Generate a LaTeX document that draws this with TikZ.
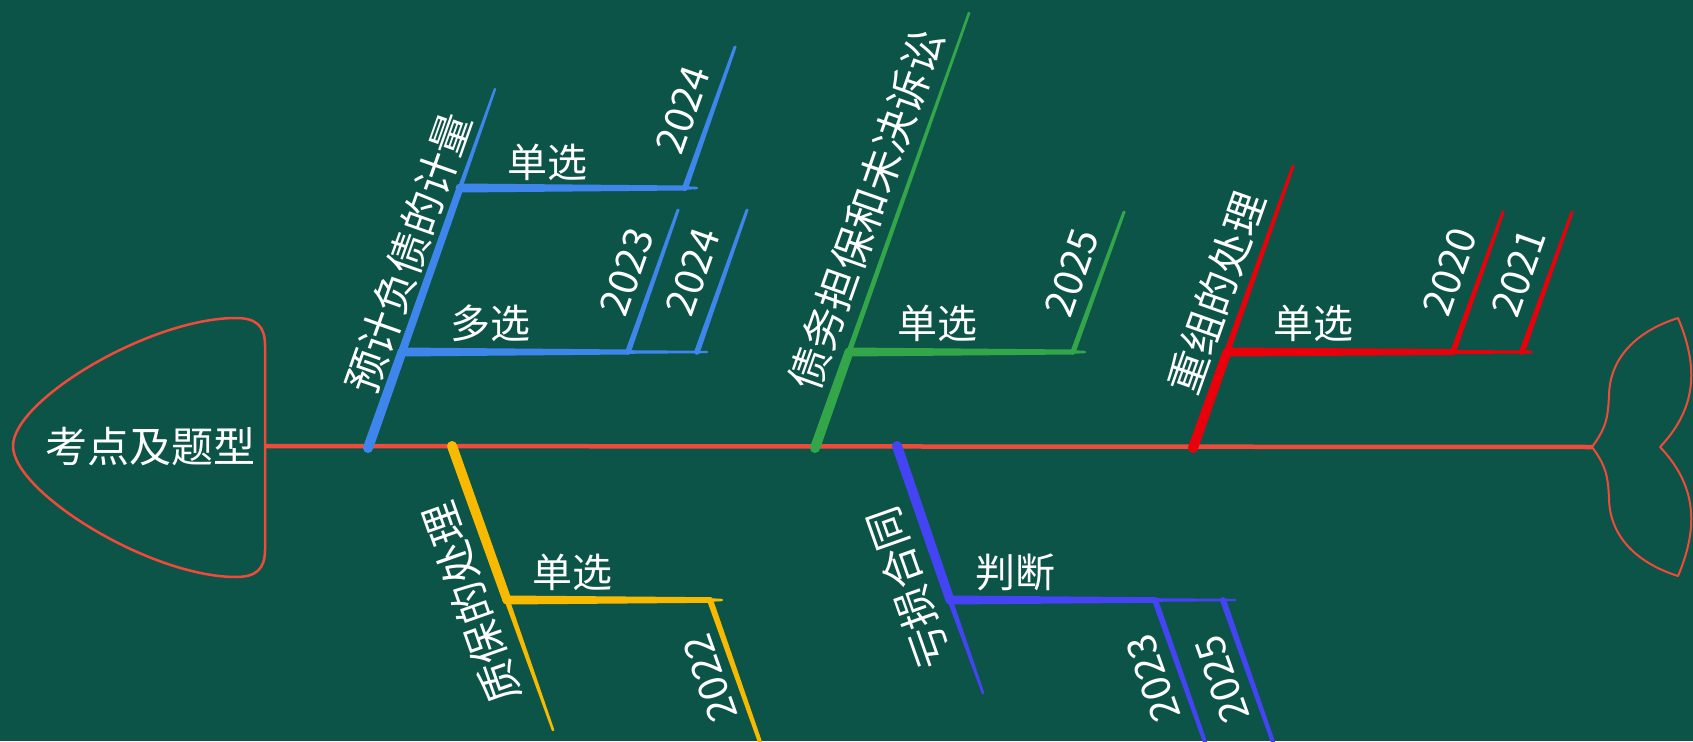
\documentclass[tikz,border=0pt]{standalone}
\usepackage{fontspec}
\setmainfont{Noto Sans CJK SC}
\usetikzlibrary{calc}
\definecolor{bg}{RGB}{13,84,72}
\definecolor{spine}{RGB}{238,75,59}
\definecolor{cbA}{RGB}{63,134,236}
\definecolor{cgr}{RGB}{51,166,74}
\definecolor{crd}{RGB}{232,0,11}
\definecolor{cyl}{RGB}{247,186,0}
\definecolor{cbB}{RGB}{68,68,244}
\newcommand\tseg[5]{%
  \fill[#1] ($(#2)!#4!90:(#3)$) -- ($(#3)!#5!-90:(#2)$) -- ($(#3)!#5!90:(#2)$) -- ($(#2)!#4!-90:(#3)$) -- cycle;
  \fill[#1] (#2) circle[radius=#4];
  \fill[#1] (#3) circle[radius=#5];}
\tikzset{
  lbl/.style={text=white, inner sep=0pt, font=\fontsize{40}{44}\selectfont},
  bonelbl/.style={text=white, inner sep=0pt, font=\fontsize{42}{46}\selectfont},
  up/.style={rotate=70.5},
  dn/.style={rotate=109.5},
  outline/.style={draw=spine, line width=2.5pt, line join=round}
}
\begin{document}
\begin{tikzpicture}[x=1pt,y=-1pt]
\useasboundingbox (0,0) rectangle (1693,741);
\clip (0,0) rectangle (1693,741);
\fill[bg] (0,0) rectangle (1693,741);

% head
\coordinate (headR) at (265,446);
\draw[outline] (265,446) -- (265,345) .. controls (265,326) and (256,318) .. (236,318)
  .. controls (150,318) and (13,400) .. (13,446)
  .. controls (13,492) and (150,577) .. (236,577)
  .. controls (256,577) and (265,569) .. (265,550) -- cycle;
\node[bonelbl] (head) at (150,447) {考点及题型};

% tail
\coordinate (tailL) at (1592,447);
\draw[outline, line width=2pt] (1592,447) .. controls (1606,428) and (1608,418) .. (1609,395)
  .. controls (1610,355) and (1640,330) .. (1678,318)
  .. controls (1700,370) and (1695,410) .. (1660,447)
  .. controls (1695,484) and (1700,524) .. (1678,576)
  .. controls (1640,564) and (1610,539) .. (1609,499)
  .. controls (1608,476) and (1606,466) .. (1592,447);

% spine
\draw[spine, line width=4.5pt] (headR) -- (tailL);

% ---- branch 1 (blue) ----
\coordinate (b1s) at (368,448); \coordinate (b1t) at (495,89);
\coordinate (b1j2) at (402,352); \coordinate (b1j1) at (460,188);
\coordinate (b1e1) at (697,188); \coordinate (b1y1) at (685,188); \coordinate (b1y1t) at (735,47);
\coordinate (b1e2) at (707,352); \coordinate (b1y2) at (628,352); \coordinate (b1y2t) at (678,210);
\coordinate (b1y3) at (697,352); \coordinate (b1y3t) at (747,210);
\tseg{cbA}{b1s}{b1j2}{5pt}{4.5pt}
\tseg{cbA}{b1j2}{b1j1}{4pt}{3.5pt}
\tseg{cbA}{b1j1}{b1t}{2.2pt}{1.2pt}
\tseg{cbA}{b1j1}{b1y1}{4.5pt}{2.5pt}
\tseg{cbA}{b1y1}{b1e1}{1.8pt}{1.2pt}
\tseg{cbA}{b1y1}{b1y1t}{3pt}{1.5pt}
\tseg{cbA}{b1j2}{b1y2}{4.5pt}{2.5pt}
\tseg{cbA}{b1y2}{b1e2}{1.8pt}{1.2pt}
\tseg{cbA}{b1y2}{b1y2t}{2.8pt}{1.5pt}
\tseg{cbA}{b1y3}{b1y3t}{2.8pt}{1.5pt}
\node[bonelbl, up] (t1) at (408,253) {预计负债的计量};
\node[lbl] (t1a) at (547,162) {单选};
\node[lbl] (t1b) at (490,323) {多选};
\node[lbl, up] (t1c) at (683,110) {2024};
\node[lbl, up] (t1d) at (627,272) {2023};
\node[lbl, up] (t1e) at (693,272) {2024};

% ---- branch 2 (green) ----
\coordinate (gs) at (815,448); \coordinate (gt) at (969,13);
\coordinate (gj) at (849,352); \coordinate (ge) at (1085,352);
\coordinate (gy) at (1073,352); \coordinate (gyt) at (1124,212);
\tseg{cgr}{gs}{gj}{5pt}{4.5pt}
\tseg{cgr}{gj}{gt}{2.6pt}{1.3pt}
\tseg{cgr}{gj}{gy}{4.5pt}{2.5pt}
\tseg{cgr}{gy}{ge}{1.8pt}{1.2pt}
\tseg{cgr}{gy}{gyt}{2.6pt}{1.5pt}
\node[bonelbl, up] (t2) at (866,210) {债务担保和未决诉讼};
\node[lbl] (t2a) at (937,323) {单选};
\node[lbl, up] (t2b) at (1072,273) {2025};

% ---- branch 3 (red) ----
\coordinate (rs) at (1193,448); \coordinate (rt) at (1293,166);
\coordinate (rj) at (1227,352); \coordinate (re) at (1531,352);
\coordinate (ry1) at (1453,352); \coordinate (ry1t) at (1503,212);
\coordinate (ry2) at (1522,352); \coordinate (ry2t) at (1572,212);
\tseg{crd}{rs}{rj}{5pt}{4.5pt}
\tseg{crd}{rj}{rt}{3pt}{1.5pt}
\tseg{crd}{rj}{ry1}{4.5pt}{3pt}
\tseg{crd}{ry1}{re}{2pt}{1.5pt}
\tseg{crd}{ry1}{ry1t}{2.8pt}{1.5pt}
\tseg{crd}{ry2}{ry2t}{2.8pt}{1.5pt}
\node[bonelbl, up] (t3) at (1216,293) {重组的处理};
\node[lbl] (t3a) at (1313,323) {单选};
\node[lbl, up] (t3b) at (1450,272) {2020};
\node[lbl, up] (t3c) at (1519,273) {2021};

% ---- branch 4 (yellow) ----
\coordinate (ys) at (452,446); \coordinate (yt) at (553,730);
\coordinate (yj) at (507,600); \coordinate (ye) at (722,600);
\coordinate (yy) at (710,600); \coordinate (yyt) at (761,745);
\tseg{cyl}{ys}{yj}{5pt}{4.5pt}
\tseg{cyl}{yj}{yt}{2.6pt}{1.3pt}
\tseg{cyl}{yj}{yy}{4.5pt}{2.8pt}
\tseg{cyl}{yy}{ye}{1.8pt}{1.2pt}
\tseg{cyl}{yy}{yyt}{3pt}{2pt}
\node[bonelbl, dn] (t4) at (471,603) {质保的处理};
\node[lbl] (t4a) at (572,572) {单选};
\node[lbl, dn] (t4b) at (710,678) {2022};

% ---- branch 5 (blue-violet) ----
\coordinate (cs) at (897,446); \coordinate (ct) at (983,693);
\coordinate (cj) at (950,600); \coordinate (ce) at (1235,600);
\coordinate (cy1) at (1155,600); \coordinate (cy1t) at (1206,745);
\coordinate (cy2) at (1223,600); \coordinate (cy2t) at (1274,745);
\tseg{cbB}{cs}{cj}{5pt}{4.5pt}
\tseg{cbB}{cj}{ct}{2.6pt}{1.3pt}
\tseg{cbB}{cj}{cy1}{4.5pt}{2.8pt}
\tseg{cbB}{cy1}{ce}{1.8pt}{1.2pt}
\tseg{cbB}{cy1}{cy1t}{3pt}{2pt}
\tseg{cbB}{cy2}{cy2t}{3pt}{2pt}
\node[bonelbl, dn] (t5) at (908,588) {亏损合同};
\node[lbl] (t5a) at (1015,572) {判断};
\node[lbl, dn] (t5b) at (1153,678) {2023};
\node[lbl, dn] (t5c) at (1222,679) {2025};
\end{tikzpicture}
\end{document}
